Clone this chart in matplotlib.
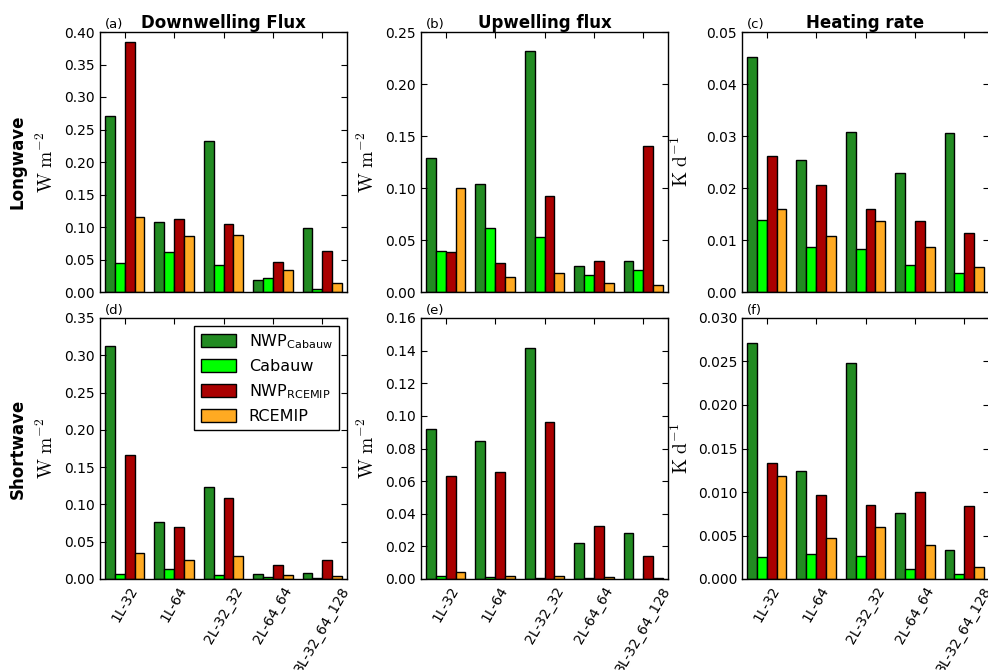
import numpy as np
import matplotlib
matplotlib.use("Agg")
import matplotlib.pyplot as plt
from matplotlib.patches import Patch

categories = ["1L-32", "1L-64", "2L-32_32", "2L-64_64", "3L-32_64_128"]
series_names = [r"NWP$_{\mathrm{Cabauw}}$", "Cabauw", r"NWP$_{\mathrm{RCEMIP}}$", "RCEMIP"]
colors = ["#228B22", "#00FF00", "#AA0000", "#FFAA22"]

# Longwave
lw_down_nwp_cab = [0.271, 0.107, 0.233, 0.018, 0.099]
lw_down_cab = [0.044, 0.062, 0.042, 0.021, 0.004]
lw_down_nwp_rce = [0.384, 0.113, 0.104, 0.046, 0.063]
lw_down_rce = [0.115, 0.086, 0.088, 0.034, 0.014]

lw_up_nwp_cab = [0.129, 0.104, 0.232, 0.025, 0.030]
lw_up_cab = [0.039, 0.062, 0.053, 0.016, 0.021]
lw_up_nwp_rce = [0.038, 0.028, 0.092, 0.030, 0.140]
lw_up_rce = [0.100, 0.014, 0.018, 0.009, 0.007]

lw_hr_nwp_cab = [0.0452, 0.0254, 0.0308, 0.0228, 0.0306]
lw_hr_cab = [0.0139, 0.0086, 0.0082, 0.0052, 0.0037]
lw_hr_nwp_rce = [0.0262, 0.0206, 0.0159, 0.0137, 0.0113]
lw_hr_rce = [0.0159, 0.0107, 0.0136, 0.0086, 0.0048]

# Shortwave
sw_down_nwp_cab = [0.312, 0.076, 0.124, 0.007, 0.0085]
sw_down_cab = [0.007, 0.013, 0.006, 0.003, 0.002]
sw_down_nwp_rce = [0.166, 0.070, 0.108, 0.019, 0.025]
sw_down_rce = [0.035, 0.026, 0.031, 0.006, 0.004]

sw_up_nwp_cab = [0.0922, 0.0844, 0.1416, 0.0219, 0.0279]
sw_up_cab = [0.0021, 0.0015, 0.0008, 0.0004, 0.0002]
sw_up_nwp_rce = [0.0631, 0.0656, 0.0965, 0.0326, 0.0141]
sw_up_rce = [0.0043, 0.0017, 0.0020, 0.0015, 0.0008]

sw_hr_nwp_cab = [0.0271, 0.0124, 0.0248, 0.0076, 0.0033]
sw_hr_cab = [0.0025, 0.0029, 0.0026, 0.0011, 0.0006]
sw_hr_nwp_rce = [0.0133, 0.0096, 0.0085, 0.0100, 0.0084]
sw_hr_rce = [0.0118, 0.0047, 0.0060, 0.0039, 0.0014]

panels = [
    [[lw_down_nwp_cab, lw_down_cab, lw_down_nwp_rce, lw_down_rce],
     [lw_up_nwp_cab, lw_up_cab, lw_up_nwp_rce, lw_up_rce],
     [lw_hr_nwp_cab, lw_hr_cab, lw_hr_nwp_rce, lw_hr_rce]],
    [[sw_down_nwp_cab, sw_down_cab, sw_down_nwp_rce, sw_down_rce],
     [sw_up_nwp_cab, sw_up_cab, sw_up_nwp_rce, sw_up_rce],
     [sw_hr_nwp_cab, sw_hr_cab, sw_hr_nwp_rce, sw_hr_rce]],
]
letters = [["(a)", "(b)", "(c)"], ["(d)", "(e)", "(f)"]]
titles = ["Downwelling Flux", "Upwelling flux", "Heating rate"]
row_labels = ["Longwave", "Shortwave"]
ylabels = [r"$\mathrm{W\ m^{-2}}$", r"$\mathrm{W\ m^{-2}}$", r"$\mathrm{K\ d^{-1}}$"]
ylims = [[0.40, 0.25, 0.05], [0.35, 0.16, 0.030]]
ysteps = [[0.05, 0.05, 0.01], [0.05, 0.02, 0.005]]
yfmts = [["%.2f", "%.2f", "%.2f"], ["%.2f", "%.2f", "%.3f"]]

fig = plt.figure(figsize=(9.88, 6.70), dpi=100)
W, H = 988.0, 670.0
col_left = [100, 421, 742]
ax_w = 247
row_top = [32, 318]
row_bot = [292, 579]

x = np.arange(len(categories))
bw = 0.2
for r in range(2):
    for c in range(3):
        ax = fig.add_axes([col_left[c] / W, 1 - row_bot[r] / H, ax_w / W,
                           (row_bot[r] - row_top[r]) / H])
        for k, vals in enumerate(panels[r][c]):
            ax.bar(x - 0.4 + k * bw, vals, width=bw, align="edge",
                   color=colors[k], edgecolor="black", linewidth=1.0)
        ax.set_xlim(-0.5, 4.5)
        ax.set_ylim(0, ylims[r][c])
        ticks = np.arange(0, ylims[r][c] + 1e-9, ysteps[r][c])
        ax.set_yticks(ticks)
        ax.set_yticklabels([yfmts[r][c] % t for t in ticks], fontsize=10)
        ax.set_xticks(x)
        if r == 1:
            ax.set_xticklabels(categories, rotation=60, fontsize=10)
        else:
            ax.set_xticklabels([])
        ax.tick_params(direction="in", top=True, right=True, length=4.5,
                       width=0.8)
        for s in ax.spines.values():
            s.set_linewidth(1.0)
        ax.set_ylabel(ylabels[c], fontsize=14, math_fontfamily="cm")
        lx = -0.174 if c < 2 else -0.202
        ax.yaxis.set_label_coords(lx, 0.5)
        ax.text(0.02, 1.005, letters[r][c], transform=ax.transAxes,
                fontsize=9.5, va="bottom", ha="left")
        if r == 0:
            ax.set_title(titles[c], fontsize=12, fontweight="bold", pad=3)
        if c == 0:
            ax.text(-0.335, 0.5, row_labels[r], transform=ax.transAxes,
                    rotation=90, fontsize=12, fontweight="bold",
                    ha="center", va="center")
        if r == 1 and c == 0:
            handles = [Patch(facecolor=colors[k], edgecolor="black")
                       for k in range(4)]
            ax.legend(handles, series_names, loc="upper right", fontsize=11.5,
                      fancybox=False, framealpha=1, edgecolor="black",
                      borderaxespad=0.5, handlelength=2.2, handleheight=0.9)

fig.savefig("out.png", dpi=100)
